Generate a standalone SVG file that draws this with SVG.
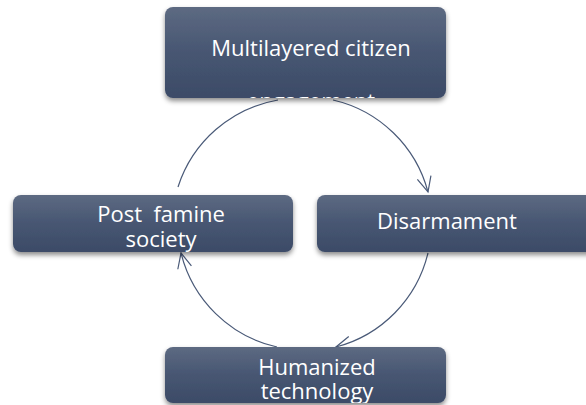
<svg xmlns="http://www.w3.org/2000/svg" width="586" height="405" viewBox="0 0 586 405">
<style>
.box{fill:url(#g);filter:url(#sh)}
.t{font-family:"Open Sans","Noto Sans",sans-serif;font-size:22px;fill:#ffffff;text-anchor:middle}
.c{fill:none;stroke:#4a5a78;stroke-width:1.2}
</style>
<defs>
<linearGradient id="g" x1="0" y1="0" x2="0" y2="1">
<stop offset="0" stop-color="#5d6a82"/>
<stop offset="0.5" stop-color="#475672"/>
<stop offset="1" stop-color="#3c4b67"/>
</linearGradient>
<filter id="sh" x="-10%" y="-10%" width="120%" height="140%">
<feDropShadow dx="0" dy="3" stdDeviation="2.5" flood-color="#000" flood-opacity="0.45"/>
</filter>
<marker id="a" markerWidth="20" markerHeight="20" refX="16" refY="8" orient="auto" markerUnits="userSpaceOnUse">
<path d="M1,1 L16,8 L1,15" fill="none" stroke="#4a5a78" stroke-width="1.2"/>
</marker>
<clipPath id="c1"><rect x="165" y="7" width="281" height="91" rx="8"/></clipPath>
<clipPath id="c4"><rect x="165" y="347" width="281" height="56" rx="8"/></clipPath>
</defs>
<g id="connectors">
<path class="c" d="M178,187 A128,128 0 0 1 278,100"/>
<path class="c" d="M333,100 A128,128 0 0 1 428,192" marker-end="url(#a)"/>
<path class="c" d="M428,253 A128,128 0 0 1 336,347" marker-end="url(#a)"/>
<path class="c" d="M277,347 A128,128 0 0 1 181,253" marker-end="url(#a)"/>
</g>
<g id="n1">
<rect class="box" x="165" y="7" width="281" height="91" rx="8"/>
<g clip-path="url(#c1)">
<text class="t" x="311" y="56">Multilayered citizen</text>
<text class="t" x="311" y="109">engagement</text>
</g>
</g>
<g id="n2">
<rect class="box" x="13" y="195" width="280" height="57" rx="8"/>
<text class="t" x="161" y="222" xml:space="preserve">Post  famine</text>
<text class="t" x="161" y="247">society</text>
</g>
<g id="n3">
<rect class="box" x="317" y="195" width="290" height="57" rx="8"/>
<text class="t" x="447" y="229">Disarmament</text>
</g>
<g id="n4">
<rect class="box" x="165" y="347" width="281" height="56" rx="8"/>
<g clip-path="url(#c4)">
<text class="t" x="317" y="375">Humanized</text>
<text class="t" x="317" y="399">technology</text>
</g>
</g>
</svg>
